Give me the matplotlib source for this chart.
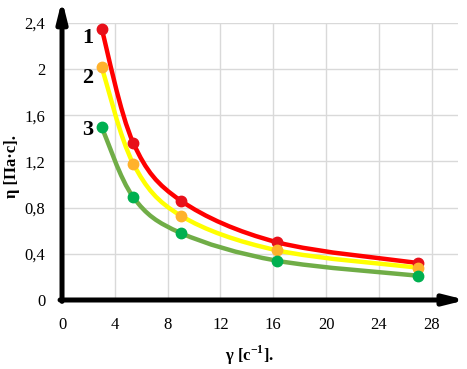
import numpy as np
import matplotlib.pyplot as plt
from matplotlib.path import Path
from matplotlib.patches import PathPatch

plt.rcParams['font.family'] = ['Liberation Serif', 'DejaVu Serif']
plt.rcParams['mathtext.fontset'] = 'custom'
plt.rcParams['mathtext.rm'] = 'Liberation Serif'
plt.rcParams['mathtext.bf'] = 'Liberation Serif:bold'

# скорость сдвига и вязкость для трёх образцов
gamma = [3.0, 5.4, 9.0, 16.3, 27.0]
eta_1 = [2.35, 1.36, 0.86, 0.50, 0.32]
eta_2 = [2.02, 1.18, 0.73, 0.43, 0.28]
eta_3 = [1.50, 0.89, 0.58, 0.34, 0.21]

x_ticks = [0, 4, 8, 12, 16, 20, 24, 28]
y_ticks = [0, 0.4, 0.8, 1.2, 1.6, 2.0, 2.4]
y_tick_labels = ['0', '0,4', '0,8', '1,2', '1,6', '2', '2,4']
curve_names = ['1', '2', '3']


def smooth_path(xs, ys):
    # сглаженная линия как в Excel (кривые Безье через точки)
    p = np.column_stack([xs, ys])
    n = len(p)
    verts = [p[0]]
    codes = [Path.MOVETO]
    for i in range(n - 1):
        p0 = p[i - 1] if i > 0 else p[i]
        p3 = p[i + 2] if i + 2 < n else p[i + 1]
        c1 = p[i] + (p[i + 1] - p0) / 6
        c2 = p[i + 1] - (p3 - p[i]) / 6
        verts += [c1, c2, p[i + 1]]
        codes += [Path.CURVE4] * 3
    return Path(verts, codes)


fig = plt.figure(figsize=(4.67, 3.69), dpi=100)
ax = fig.add_axes([0.1328, 0.187, 0.848, 0.751])
ax.set_xlim(0, 30)
ax.set_ylim(0, 2.4)

series = [
    (eta_1, '#FF0000', '#E8101A'),
    (eta_2, '#FFFF00', '#FFB22C'),
    (eta_3, '#70AD47', '#00B050'),
]
for vals, lc, mc in series:
    ax.add_patch(PathPatch(smooth_path(gamma, vals), fill=False,
                           edgecolor=lc, lw=3.2, capstyle='round', zorder=3))
    ax.plot(gamma, vals, 'o', color=mc, markersize=7.5, zorder=4)

ax.set_xticks(x_ticks)
ax.set_yticks(y_ticks)
ax.set_yticklabels(y_tick_labels)
ax.tick_params(length=0, labelsize=12, pad=12)
ax.grid(True, color='#D9D9D9', lw=1)
ax.set_axisbelow(True)
for s in ax.spines.values():
    s.set_visible(False)

# оси со стрелками
ax.annotate('', xy=(0, 1.083), xytext=(0, -0.005), xycoords='axes fraction',
            arrowprops=dict(arrowstyle='-|>,head_length=1.2,head_width=0.3',
                            color='black', lw=3.6, shrinkA=0, shrinkB=0),
            annotation_clip=False, zorder=5)
ax.annotate('', xy=(1.02, 0), xytext=(-0.005, 0), xycoords='axes fraction',
            arrowprops=dict(arrowstyle='-|>,head_length=1.2,head_width=0.3',
                            color='black', lw=3.6, shrinkA=0, shrinkB=0),
            annotation_clip=False, zorder=5)

# номера кривых
for name, yy in zip(curve_names, [2.27, 1.92, 1.47]):
    ax.text(1.95, yy, name, fontsize=16, fontweight='bold',
            ha='center', va='center')

fig.text(0.535, 0.038, r'γ [с$^{\mathbf{-1}}$].', fontsize=12,
         fontweight='bold', ha='center', va='center')
fig.text(0.025, 0.55, 'η [Па·с].', fontsize=12, fontweight='bold',
         rotation=90, ha='center', va='center')

fig.savefig('out.png', dpi=100)
